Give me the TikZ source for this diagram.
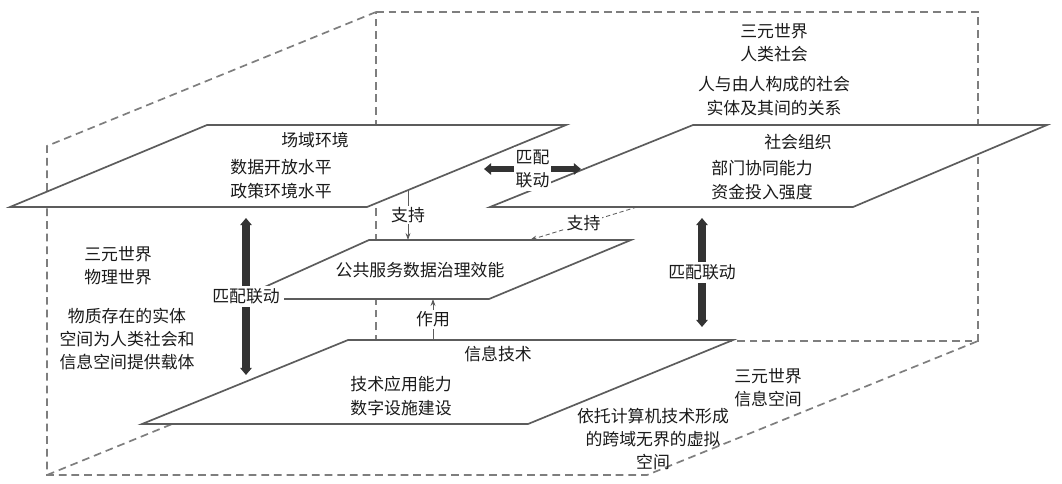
\documentclass[tikz,border=0pt]{standalone}
\usepackage{fontspec}
\setmainfont{Noto Sans CJK SC}
\usetikzlibrary{arrows.meta,calc}
\definecolor{ink}{HTML}{1A1A1A}
\definecolor{edge}{HTML}{5C5C5C}
\definecolor{frame}{HTML}{7E7E7E}
\definecolor{bolt}{HTML}{333333}
\tikzset{
  x=0.025cm, y=-0.025cm,
  every node/.style={font=\fontsize{12}{16.5}\selectfont,text=ink,align=center,inner sep=1pt},
  frameline/.style={draw=frame,line width=1.2pt,dash pattern=on 5.5pt off 3.5pt},
  plane/.style={draw=edge,line width=1.2pt,fill=white,line join=miter},
  link/.style={{Triangle[width=8pt,length=5pt]}-{Triangle[width=8pt,length=5pt]},line width=5pt,draw=bolt},
  hlink/.style={link,line width=3.6pt},
  gap/.style={fill=white,inner xsep=3pt,inner ysep=2pt},
  supp/.style={-{Stealth[length=5pt,width=3.5pt]},draw=edge,line width=0.6pt},
  suppd/.style={supp,dash pattern=on 3pt off 2pt},
  tag/.style={fill=white,inner sep=1pt},
}
\begin{document}
\begin{tikzpicture}
\useasboundingbox (0,0) rectangle (1062,483);

% ---------- dashed frame ----------
\draw[frameline] (376,12) -- (978,12) -- (978,341) -- (376,341) -- cycle;
\draw[frameline] (376,12) -- (47,146) -- (47,475) -- (647,475) -- (978,341);
\draw[frameline] (47,475) -- (376,341);

% ---------- planes ----------
\draw[plane] (10,207) -- (367,207) -- (566,125) -- (207,125) -- cycle;
\draw[plane] (490,207) -- (853,207) -- (1047,125) -- (693,125) -- cycle;
\draw[plane] (238,299) -- (489,299) -- (631,240) -- (369,240) -- cycle;
\draw[plane] (142,424) -- (528,424) -- (733,340) -- (348,340) -- cycle;

% ---------- texts ----------
\node (env) at (315,140) {场域环境};
\node (envind) at (281,179) {数据开放水平\\[1pt]政策环境水平};
\node (org) at (798,142) {社会组织};
\node (orgind) at (762,180) {部门协同能力\\[1pt]资金投入强度};
\node (hum) at (774,43) {三元世界\\人类社会};
\node (humdef) at (774,96) {人与由人构成的社会\\实体及其间的关系};
\node (gov) at (420,270) {公共服务数据治理效能};
\node (tech) at (498,354) {信息技术};
\node (techind) at (401,396) {技术应用能力\\[1pt]数字设施建设};
\node (phy) at (118,266) {三元世界\\物理世界};
\node (phydef) at (127,339) {物质存在的实体\\空间为人类社会和\\信息空间提供载体};
\node (info) at (768,388) {三元世界\\信息空间};
\node (infodef) at (653,439) {依托计算机技术形成\\的跨域无界的虚拟\\空间};

% ---------- links ----------
\coordinate (lkA) at (246,218);
\coordinate (lkB) at (246,375);
\coordinate (rkA) at (702,218);
\coordinate (rkB) at (702,327);
\coordinate (hkA) at (484,169);
\coordinate (hkB) at (581,169);
\draw[link] (lkA) -- node[gap] (lkT) {匹配联动} (lkB);
\draw[link] (rkA) -- node[gap] (rkT) {匹配联动} (rkB);
\draw[hlink] (hkA) -- node[gap,inner xsep=1.5pt] (hkT) {匹配\\联动} (hkB);

% ---------- support / effect ----------
\coordinate (spA) at (408,190);
\coordinate (spB) at (408,240);
\coordinate (sdA) at (637,207);
\coordinate (sdB) at (530,240);
\coordinate (efA) at (433,340);
\coordinate (efB) at (433,299);
\draw[supp] (spA) -- node[tag] (spT) {支持} (spB);
\draw[suppd] (sdA) -- node[tag] (sdT) {支持} (sdB);
\draw[supp] (efA) -- node[tag] (efT) {作用} (efB);

\end{tikzpicture}
\end{document}
